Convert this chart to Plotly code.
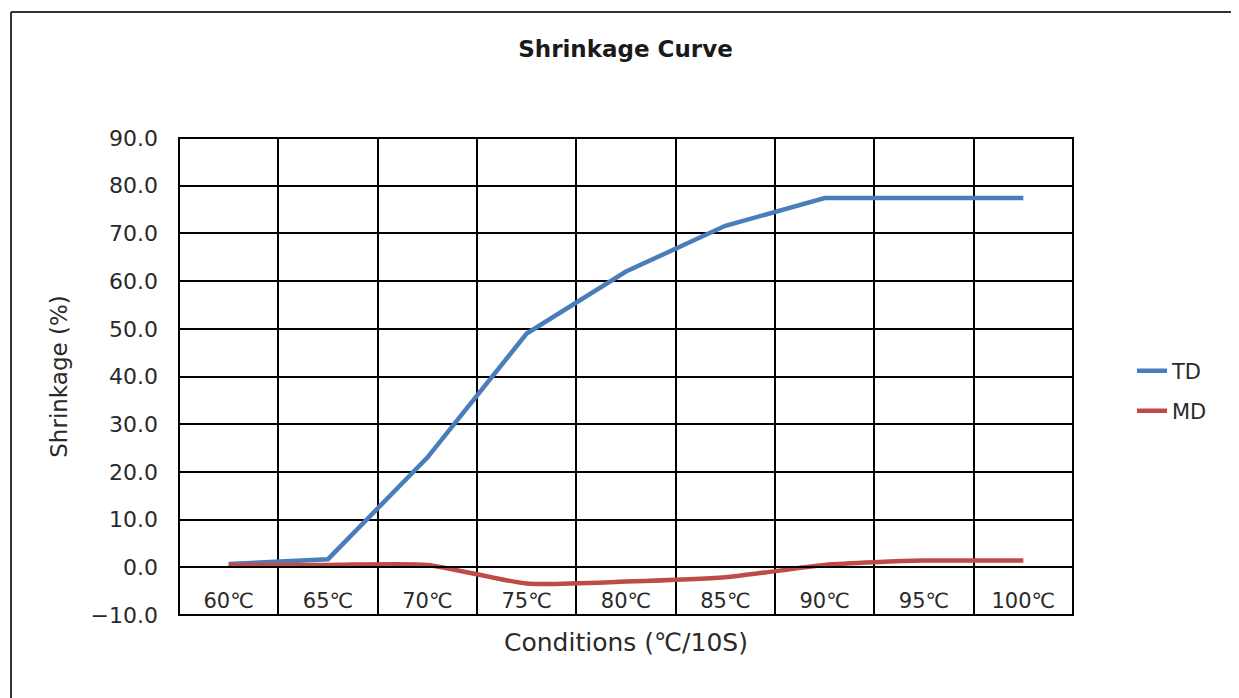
import plotly.graph_objects as go

categories = ["60℃", "65℃", "70℃", "75℃", "80℃", "85℃", "90℃", "95℃", "100℃"]
td_values = [0.7, 1.7, 23.0, 49.0, 62.0, 71.6, 77.4, 77.4, 77.4]
md_values = [0.5, 0.5, 0.5, -3.4, -3.0, -2.1, 0.5, 1.4, 1.4]
y_ticks = [-10, 0, 10, 20, 30, 40, 50, 60, 70, 80, 90]

FONT = "DejaVu Sans"
TXT = "#2a2a2a"

# page body has an 8px margin: size/margins compensate so the plot sits where the reference has it
OFF = 8
W, H = 1239 - OFF, 698 - OFF
PL, PR, PT, PB = 179, 1073, 138, 615  # plot area in screen pixels


def px_x(sx):
    return (sx - PL) / (PR - PL)


def px_y(sy):
    return (PB - sy) / (PB - PT)


fig = go.Figure()
fig.add_trace(go.Scatter(
    x=categories, y=td_values, name="TD", mode="lines",
    line=dict(color="#4A7EBB", width=4.5), legend="legend",
))
fig.add_trace(go.Scatter(
    x=categories, y=md_values, name="MD", mode="lines",
    line=dict(color="#BE4B48", width=4.5, shape="spline", smoothing=0.6), legend="legend2",
))

legend_common = dict(xanchor="left", yanchor="middle",
                     font=dict(family=FONT, size=21, color=TXT),
                     bgcolor="rgba(0,0,0,0)", itemwidth=30)

fig.update_layout(
    width=W, height=H,
    margin=dict(l=PL - OFF, r=W - (PR - OFF), t=PT - OFF, b=H - (PB - OFF)),
    paper_bgcolor="white", plot_bgcolor="white",
    font=dict(family=FONT, color=TXT, size=20),
    title=dict(text="<b>Shrinkage Curve</b>", x=(625.5 - OFF) / W, xanchor="center",
               y=1 - (49 - OFF) / H, yanchor="middle",
               font=dict(family=FONT, size=23, color="#1a1a1a")),
    showlegend=True,
    legend=dict(x=px_x(1132), y=px_y(371), **legend_common),
    legend2=dict(x=px_x(1132), y=px_y(411), **legend_common),
)

fig.update_xaxes(
    type="category", categoryorder="array", categoryarray=categories,
    range=[-0.5, 8.5],
    anchor="free", position=0.1,
    tickson="boundaries", ticks="",
    showgrid=True, gridcolor="black", gridwidth=1.6,
    showline=True, linecolor="black", linewidth=1.6,
    tickfont=dict(family=FONT, size=21, color=TXT),
    ticklabelstandoff=15,
    title=dict(text="Conditions (℃/10S)", font=dict(family=FONT, size=25, color=TXT), standoff=20),
    zeroline=False,
)
fig.update_yaxes(
    range=[-10, 90], tickvals=y_ticks, tickformat=".1f",
    showgrid=True, gridcolor="black", gridwidth=1.6,
    zeroline=True, zerolinecolor="black", zerolinewidth=1.6,
    showline=False, ticks="",
    tickfont=dict(family=FONT, size=22, color=TXT),
    ticklabelstandoff=20,
    title=dict(text="Shrinkage (%)", font=dict(family=FONT, size=23, color=TXT), standoff=16),
)

# plot-area frame
fig.add_shape(type="rect", xref="paper", yref="paper", x0=0, x1=1, y0=0, y1=1,
              line=dict(color="black", width=2), layer="above")
# outer chart border (left/top dark, right light grey)
fig.add_shape(type="line", xref="paper", yref="paper",
              x0=px_x(11), x1=px_x(11), y0=px_y(12), y1=px_y(720),
              line=dict(color="#333333", width=2))
fig.add_shape(type="line", xref="paper", yref="paper",
              x0=px_x(11), x1=px_x(1238), y0=px_y(12), y1=px_y(12),
              line=dict(color="#333333", width=2))
fig.add_shape(type="line", xref="paper", yref="paper",
              x0=px_x(1237.5), x1=px_x(1237.5), y0=px_y(12), y1=px_y(720),
              line=dict(color="#aaaaaa", width=1.5))

fig.write_html("out.html")
